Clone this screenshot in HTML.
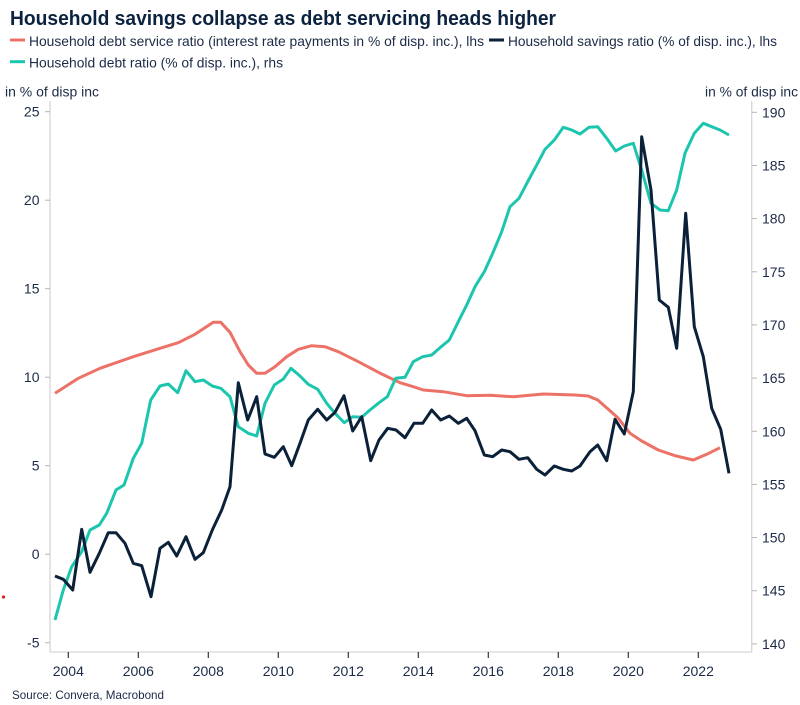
<!DOCTYPE html>
<html><head><meta charset="utf-8"><style>
html,body{margin:0;padding:0;background:#fff;}
svg{display:block;}
text{font-family:"Liberation Sans",Arial,sans-serif;}
</style></head><body>
<svg width="800" height="705" viewBox="0 0 800 705" xmlns="http://www.w3.org/2000/svg">
<rect width="800" height="705" fill="#fff"/>
<text x="10" y="25" font-size="20" font-weight="bold" fill="#0c2340" textLength="546" lengthAdjust="spacingAndGlyphs">Household savings collapse as debt servicing heads higher</text>
<rect x="10" y="38.5" width="15" height="3" fill="#ec7166"/>
<text x="29" y="46" font-size="14" fill="#1b2a47" textLength="455" lengthAdjust="spacingAndGlyphs">Household debt service ratio (interest rate payments in % of disp. inc.), lhs</text>
<rect x="489" y="38.5" width="15" height="3" fill="#0b2039"/>
<text x="508" y="46" font-size="14" fill="#1b2a47" textLength="269" lengthAdjust="spacingAndGlyphs">Household savings ratio (% of disp. inc.), lhs</text>
<rect x="10" y="60.2" width="15" height="3" fill="#1cc6ae"/>
<text x="29" y="67.5" font-size="14" fill="#1b2a47" textLength="254" lengthAdjust="spacingAndGlyphs">Household debt ratio (% of disp. inc.), rhs</text>
<text x="5" y="96.5" font-size="14" fill="#1b2a47" textLength="94" lengthAdjust="spacingAndGlyphs">in % of disp inc</text>
<text x="705" y="96.5" font-size="14" fill="#1b2a47" textLength="93" lengthAdjust="spacingAndGlyphs">in % of disp inc</text>

<g stroke="#d6d6d6" stroke-width="1.3" fill="none">
<line x1="50" y1="101" x2="50" y2="652"/>
<line x1="751.7" y1="101" x2="751.7" y2="652"/>
<line x1="50" y1="652" x2="752" y2="652"/>
</g>
<g stroke="#b5b5b5" stroke-width="1">
<line x1="45" y1="111.7" x2="50" y2="111.7"/><line x1="45" y1="200.2" x2="50" y2="200.2"/><line x1="45" y1="288.7" x2="50" y2="288.7"/><line x1="45" y1="377.2" x2="50" y2="377.2"/><line x1="45" y1="465.7" x2="50" y2="465.7"/><line x1="45" y1="554.2" x2="50" y2="554.2"/><line x1="45" y1="642.7" x2="50" y2="642.7"/>
<line x1="752" y1="112.3" x2="757" y2="112.3"/><line x1="752" y1="165.5" x2="757" y2="165.5"/><line x1="752" y1="218.6" x2="757" y2="218.6"/><line x1="752" y1="271.8" x2="757" y2="271.8"/><line x1="752" y1="324.9" x2="757" y2="324.9"/><line x1="752" y1="378.1" x2="757" y2="378.1"/><line x1="752" y1="431.3" x2="757" y2="431.3"/><line x1="752" y1="484.4" x2="757" y2="484.4"/><line x1="752" y1="537.6" x2="757" y2="537.6"/><line x1="752" y1="590.7" x2="757" y2="590.7"/><line x1="752" y1="643.9" x2="757" y2="643.9"/>
</g>
<g stroke="#333" stroke-width="1.2">
<line x1="68.3" y1="652" x2="68.3" y2="658"/><line x1="138.3" y1="652" x2="138.3" y2="658"/><line x1="208.3" y1="652" x2="208.3" y2="658"/><line x1="278.3" y1="652" x2="278.3" y2="658"/><line x1="348.3" y1="652" x2="348.3" y2="658"/><line x1="418.3" y1="652" x2="418.3" y2="658"/><line x1="488.3" y1="652" x2="488.3" y2="658"/><line x1="558.3" y1="652" x2="558.3" y2="658"/><line x1="628.3" y1="652" x2="628.3" y2="658"/><line x1="698.3" y1="652" x2="698.3" y2="658"/>
</g>
<g font-size="14" fill="#1b2a47" text-anchor="end">
<text x="39.5" y="116.7">25</text><text x="39.5" y="205.2">20</text><text x="39.5" y="293.7">15</text><text x="39.5" y="382.2">10</text><text x="39.5" y="470.7">5</text><text x="39.5" y="559.2">0</text><text x="39.5" y="647.7">-5</text>
</g>
<g font-size="14" fill="#1b2a47">
<text x="762" y="117.3">190</text><text x="762" y="170.5">185</text><text x="762" y="223.6">180</text><text x="762" y="276.8">175</text><text x="762" y="329.9">170</text><text x="762" y="383.1">165</text><text x="762" y="436.3">160</text><text x="762" y="489.4">155</text><text x="762" y="542.6">150</text><text x="762" y="595.7">145</text><text x="762" y="648.9">140</text>
</g>
<g font-size="14" fill="#1b2a47" text-anchor="middle">
<text x="68.3" y="676">2004</text><text x="138.3" y="676">2006</text><text x="208.3" y="676">2008</text><text x="278.3" y="676">2010</text><text x="348.3" y="676">2012</text><text x="418.3" y="676">2014</text><text x="488.3" y="676">2016</text><text x="558.3" y="676">2018</text><text x="628.3" y="676">2020</text><text x="698.3" y="676">2022</text>
</g>
<text x="12" y="699" font-size="12" fill="#1b2a47" textLength="152" lengthAdjust="spacingAndGlyphs">Source: Convera, Macrobond</text>
<circle cx="3.5" cy="597" r="1.6" fill="#e02020"/>

<g fill="none" stroke-width="3" stroke-linejoin="round" stroke-linecap="butt">
<polyline stroke="#ec7166" points="55,393.3 78.3,378.3 100,368.3 133.3,356.7 160,348.3 178.3,342.7 195,334.3 213.3,322.3 220.7,322.3 230,332.3 240,351.7 248.3,365 256.7,373.3 265,373.3 275,366.7 286.7,356.7 298.3,349.3 311.7,345.7 325,346.7 338.3,351.7 358.3,361.7 381.7,374 400,382.7 413.3,386.7 423.3,390 443.3,391.7 466.7,395.7 490,395.3 513.3,396.7 543.3,394 575,395 588.3,396 597.7,400 608.3,409.3 618.3,418.3 630,433.3 641.7,441 658.3,450 675,455.7 693.3,460 706.7,454.3 720,447.7"/>
<polyline stroke="#1cc6ae" points="55,620 63.3,590 71.7,566.7 81.7,551.7 90,530 99.3,525 106.7,513.3 116,490 124,485 133.3,458.3 141.7,443.3 150.7,400 160,386 168.3,384 177.7,392.7 186,370.7 195,381.7 203.3,380 212.3,386 220.7,388.3 230,396.7 238.3,426.7 248.3,433.3 256.7,436 265,403.3 274.3,385 283.3,379 291,368.3 300,376 308.3,384.3 317.7,389.3 326.7,403.3 335,413.3 344.3,422.7 352.7,416.7 361.7,417.3 370,410 378.3,403.3 387.3,396.7 395.7,378.3 405,377.3 413.3,361.7 422.7,356.7 431.7,355 440,347.7 449.3,340 458.3,321.7 466.7,305 475,286.7 484.3,271.7 492.7,253.3 501.7,231.7 510,206.7 519,198.3 527.7,181.7 536.7,165 545,149.3 554.3,140 563.3,127.3 571.7,130 580,134 589,127.3 597.7,126.7 606.7,138.3 615.7,151 624.3,146 633.3,143.3 641.7,170 651,203.3 660,210 668.3,210.7 676.7,190 685,153.3 694.3,133.3 703.3,123.3 711.7,126.7 720,130 729,135"/>
<polyline stroke="#0b2039" points="55,576 63.3,579.3 72.7,590 81.7,529.3 90,572.3 99.3,553.3 108.3,532.7 116,532.7 125,543.3 133.3,563.3 141.7,565.7 151,596.7 160,548.3 168.3,542.3 176.7,556 186,536.7 195,559.3 203.3,552.7 212.3,530 221.7,510 230,486.7 238.3,382.7 247.7,420 256.7,396.7 265,454 274.3,457.3 283.3,446.7 291.7,465.7 300,443.3 308.3,420 317.7,409.3 326.7,420 335,412.3 344,395.7 352.7,431 361.7,416.7 370.7,460.7 379,440 387.7,428.3 396,430 405,437.7 414,423.3 422.7,423.3 431.7,410 440.7,420 449.3,416 458.3,423.3 466.7,418.3 475,430.7 484.3,455 492.7,456.7 501.7,450 510,451.7 519,459.3 527.7,457.7 536.7,469.3 545,475 554.3,466 563.3,469.3 571.7,471 580,466 590,451.7 597.7,445 606.7,460.7 615,419.3 624.3,434 633.3,391.7 641.7,136.7 651,190 659.3,300 668.3,307.3 676.7,348.3 685.7,213.3 694.3,326.7 703.3,356.7 711.7,408.3 720.7,429.3 729,473.3"/>
</g>
</svg>
</body></html>
